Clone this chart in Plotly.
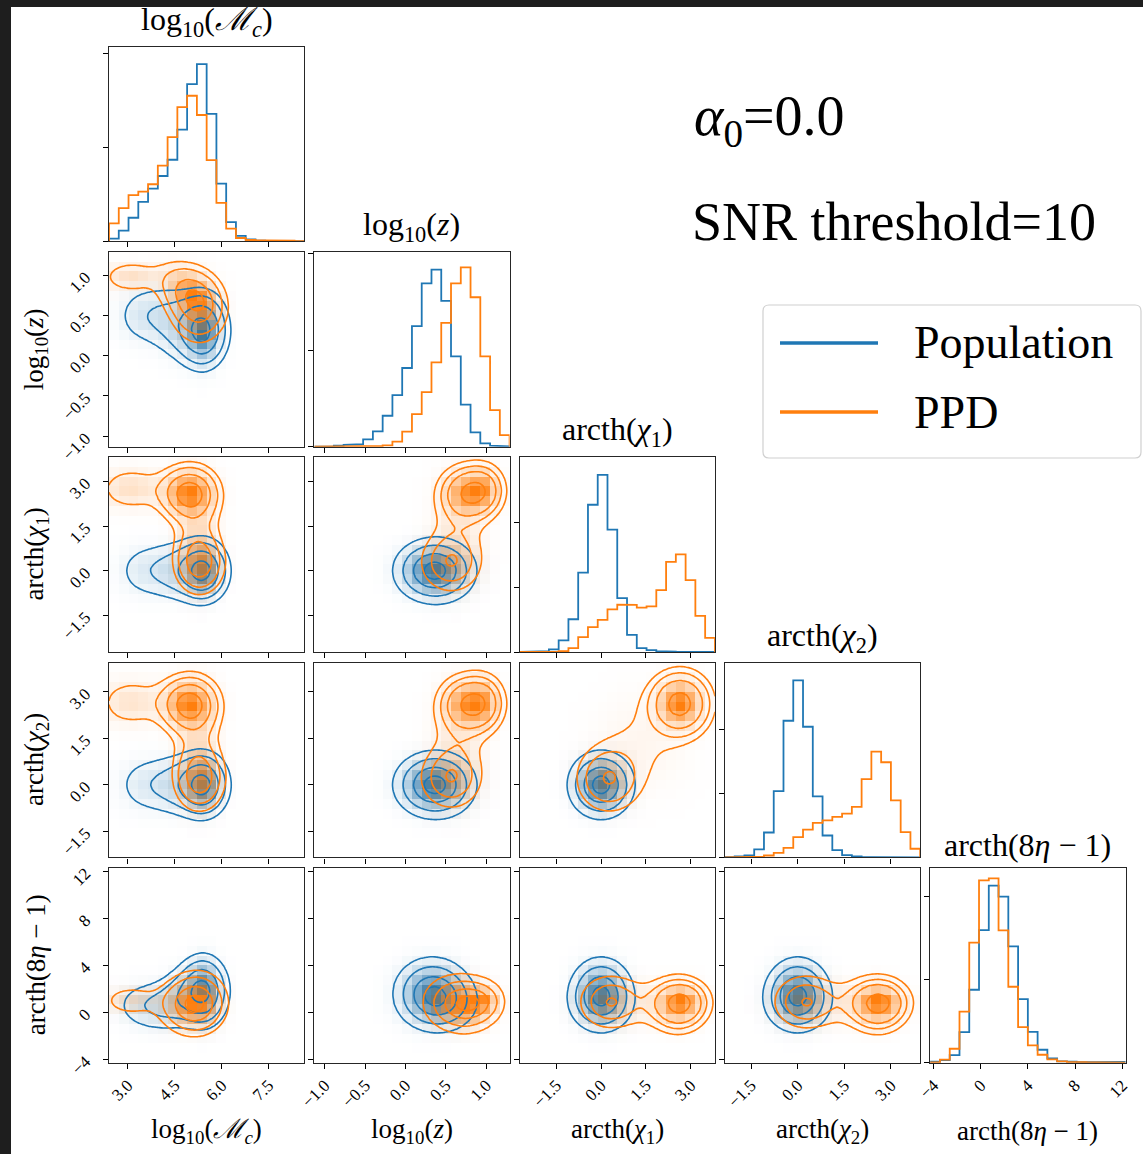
import numpy as np
import plotly.graph_objects as go

W, H = 1143, 1154
SERIF = "Liberation Serif, DejaVu Serif, serif"
BLUE = (31, 119, 180)
ORANGE = (255, 127, 14)

# ---------------- parameters, ranges and ticks ----------------
labels = [
    "log<sub>10</sub>(<i>ℳ</i><sub><i>c</i></sub>)",
    "log<sub>10</sub>(<i>z</i>)",
    "arcth(<i>χ</i><sub>1</sub>)",
    "arcth(<i>χ</i><sub>2</sub>)",
    "arcth(8<i>η</i> − 1)",
]
range_lo = [2.40, -1.13, -2.73, -2.34, -4.28]
range_hi = [8.64, 1.29, 3.81, 3.94, 12.28]
tick_vals = [
    [3.0, 4.5, 6.0, 7.5],
    [-1.0, -0.5, 0.0, 0.5, 1.0],
    [-1.5, 0.0, 1.5, 3.0],
    [-1.5, 0.0, 1.5, 3.0],
    [-4, 0, 4, 8, 12],
]
tick_text = [
    ["3.0", "4.5", "6.0", "7.5"],
    ["−1.0", "−0.5", "0.0", "0.5", "1.0"],
    ["−1.5", "0.0", "1.5", "3.0"],
    ["−1.5", "0.0", "1.5", "3.0"],
    ["−4", "0", "4", "8", "12"],
]
N_BINS = 20

# ---------------- 1D marginal histograms (density, 20 bins) ----------------
hist_mc_pop = [0.028, 0.113, 0.251, 0.420, 0.562, 0.696, 0.869, 1.190, 1.675, 1.887,
               1.357, 0.615, 0.205, 0.057, 0.021, 0.007, 0.004, 0.002, 0.001, 0.001]
hist_mc_ppd = [0.190, 0.353, 0.491, 0.530, 0.608, 0.806, 1.110, 1.430, 1.551, 1.346,
               0.866, 0.410, 0.134, 0.035, 0.014, 0.010, 0.010, 0.008, 0.006, 0.001]
hist_z_pop = [0.000, 0.003, 0.010, 0.020, 0.027, 0.076, 0.158, 0.320, 0.533, 0.814,
              1.247, 1.690, 1.832, 1.509, 0.935, 0.436, 0.148, 0.034, 0.010, 0.003]
hist_z_ppd = [0.000, 0.001, 0.002, 0.003, 0.003, 0.005, 0.007, 0.014, 0.052, 0.155,
              0.337, 0.564, 0.873, 1.282, 1.690, 1.856, 1.546, 0.935, 0.378, 0.120]
hist_c1_pop = [0.002, 0.005, 0.015, 0.040, 0.180, 0.505, 1.224, 2.270, 2.730, 1.888,
               0.832, 0.265, 0.061, 0.030, 0.015, 0.005, 0.003, 0.002, 0.001, 0.001]
hist_c1_ppd = [0.000, 0.001, 0.003, 0.006, 0.015, 0.061, 0.230, 0.383, 0.495, 0.658,
               0.730, 0.725, 0.684, 0.704, 0.954, 1.388, 1.505, 1.107, 0.556, 0.219]
hist_c2_pop = [0.005, 0.015, 0.030, 0.124, 0.389, 1.036, 2.135, 2.767, 2.041, 0.953,
               0.342, 0.114, 0.036, 0.015, 0.005, 0.003, 0.002, 0.001, 0.001, 0.001]
hist_c2_ppd = [0.000, 0.001, 0.003, 0.010, 0.030, 0.070, 0.150, 0.316, 0.435, 0.539,
               0.580, 0.632, 0.684, 0.788, 1.223, 1.653, 1.487, 0.891, 0.394, 0.135]
hist_eta_pop = [0.012, 0.032, 0.092, 0.368, 0.880, 1.600, 2.136, 2.004, 1.404, 0.768,
                0.372, 0.156, 0.052, 0.016, 0.012, 0.008, 0.006, 0.005, 0.010, 0.010]
hist_eta_ppd = [0.004, 0.036, 0.168, 0.616, 1.448, 2.200, 2.224, 1.596, 0.916, 0.428,
                0.208, 0.096, 0.040, 0.016, 0.008, 0.006, 0.004, 0.003, 0.002, 0.002]
hist_pop = [hist_mc_pop, hist_z_pop, hist_c1_pop, hist_c2_pop, hist_eta_pop]
hist_ppd = [hist_mc_ppd, hist_z_ppd, hist_c1_ppd, hist_c2_ppd, hist_eta_ppd]
hist_ticks = [0, 1, 2]

# ---------------- joint densities: Gaussian-mixture components ----------------
# variable order: [log10 Mc, log10 z, arcth chi1, arcth chi2, arcth(8 eta - 1)]
pop_weight = [0.55, 0.30, 0.15]
pop_mean = [[5.42, 0.32, 0.00, 0.00, 1.8],
            [4.65, 0.38, 0.00, 0.00, 1.2],
            [3.50, 0.50, 0.00, 0.00, 0.6]]
pop_sd = [[0.30, 0.22, 0.45, 0.45, 1.4],
          [0.50, 0.24, 0.48, 0.48, 1.3],
          [0.50, 0.20, 0.50, 0.50, 1.0]]
pop_corr = [(1, 0, 4, 0.35), (1, 0, 1, -0.2)]  # (component, var a, var b, rho)

ppd_weight = [0.41, 0.14, 0.25, 0.20]
ppd_mean = [[4.95, 0.78, 2.60, 2.60, 0.6],
            [3.10, 0.98, 2.75, 2.65, 1.0],
            [5.30, 0.55, 0.25, 0.20, 0.9],
            [5.20, 0.65, 1.40, 1.40, 0.8]]
ppd_sd = [[0.45, 0.17, 0.42, 0.42, 1.0],
          [0.65, 0.10, 0.40, 0.45, 0.6],
          [0.35, 0.20, 0.50, 0.50, 1.1],
          [0.40, 0.20, 1.00, 1.00, 1.1]]
ppd_corr = [(0, 0, 1, -0.45)]

# ---------------- panel geometry (pixels) ----------------
col_left = [109.0, 314.3, 519.6, 724.9, 930.2]
row_top = [46.5, 251.9, 457.2, 662.6, 867.9]
PANEL_W, PANEL_H = 195.3, 194.8


def px_x(x):
    return x / W


def px_y(y):
    return 1 - y / H


def rgba(c, a):
    return f"rgba({c[0]},{c[1]},{c[2]},{a})"


def pair_pdf(X, Y, weights, means, sds, corrs, a, b, sm_a=0.0, sm_b=0.0):
    tot = np.zeros_like(X)
    for k, w in enumerate(weights):
        rho0 = 0.0
        for comp, va, vb, r in corrs:
            if comp == k and {va, vb} == {a, b}:
                rho0 = r
        sa0, sb0 = sds[k][a], sds[k][b]
        sa = np.sqrt(sa0 ** 2 + sm_a ** 2)
        sb = np.sqrt(sb0 ** 2 + sm_b ** 2)
        rho = rho0 * sa0 * sb0 / (sa * sb)
        u = (X - means[k][a]) / sa
        v = (Y - means[k][b]) / sb
        q = (u * u - 2 * rho * u * v + v * v) / (1 - rho ** 2)
        tot += w * np.exp(-0.5 * q) / (2 * np.pi * sa * sb * np.sqrt(1 - rho ** 2))
    return tot


def sigma_field(d):
    flat = d.ravel()
    order = np.argsort(flat)[::-1]
    cum = np.cumsum(flat[order])
    cum /= cum[-1]
    m = np.empty_like(flat)
    m[order] = cum
    m = np.clip(m, 0, 1 - 1e-12)
    return np.sqrt(-2 * np.log(1 - m)).reshape(d.shape)


pops = [
    dict(color=BLUE, hist=hist_pop, w=pop_weight, mu=pop_mean, sd=pop_sd, corr=pop_corr),
    dict(color=ORANGE, hist=hist_ppd, w=ppd_weight, mu=ppd_mean, sd=ppd_sd, corr=ppd_corr),
]

fig = go.Figure()
layout = dict(
    width=W, height=H, margin=dict(l=0, r=0, t=0, b=0, autoexpand=False), autosize=False,
    paper_bgcolor="white", plot_bgcolor="white", showlegend=False,
    font=dict(family=SERIF, color="black"),
)

axis_common = dict(
    showline=True, mirror=True, linecolor="#262626", linewidth=1.2,
    ticks="outside", ticklen=5, tickwidth=1, tickcolor="black",
    showgrid=False, zeroline=False, tickangle=-45, automargin=False,
    tickfont=dict(family=SERIF, size=17, color="black"),
)

n = 0
for i in range(5):
    for j in range(i + 1):
        n += 1
        xa = "x" if n == 1 else f"x{n}"
        ya = "y" if n == 1 else f"y{n}"
        xkey = "xaxis" if n == 1 else f"xaxis{n}"
        ykey = "yaxis" if n == 1 else f"yaxis{n}"
        x0, x1 = col_left[j], col_left[j] + PANEL_W
        y0, y1 = row_top[i], row_top[i] + PANEL_H
        xdict = dict(axis_common, domain=[px_x(x0), px_x(x1)], anchor=ya,
                     range=[range_lo[j], range_hi[j]], tickvals=tick_vals[j],
                     ticktext=tick_text[j], showticklabels=(i == 4))
        if i == j:
            ymax = 1.1 * max(hist_pop[i])
            ydict = dict(axis_common, domain=[px_y(y1), px_y(y0)], anchor=xa,
                         range=[0, ymax], tickvals=hist_ticks, showticklabels=False)
            edges = np.linspace(range_lo[i], range_hi[i], N_BINS + 1)
            for p in pops:
                h = p["hist"][i]
                xs = [edges[0]]
                ys = [0.0]
                for k in range(N_BINS):
                    xs += [edges[k], edges[k + 1]]
                    ys += [h[k], h[k]]
                xs.append(edges[-1])
                ys.append(0.0)
                fig.add_trace(go.Scatter(x=xs, y=ys, mode="lines", xaxis=xa, yaxis=ya,
                                         line=dict(color=rgba(p["color"], 1), width=1.8),
                                         hoverinfo="skip", cliponaxis=True))
        else:
            ydict = dict(axis_common, domain=[px_y(y1), px_y(y0)], anchor=xa,
                         range=[range_lo[i], range_hi[i]], tickvals=tick_vals[i],
                         ticktext=tick_text[i], showticklabels=(j == 0),
                         ticklabelstandoff=14)
            # binned density (20 x 20 cells) and smoothed density for contours
            bx = np.linspace(range_lo[j], range_hi[j], N_BINS + 1)
            by = np.linspace(range_lo[i], range_hi[i], N_BINS + 1)
            cx = 0.5 * (bx[1:] + bx[:-1])
            cy = 0.5 * (by[1:] + by[:-1])
            gx = np.linspace(range_lo[j], range_hi[j], 90)
            gy = np.linspace(range_lo[i], range_hi[i], 90)
            dx = bx[1] - bx[0]
            dy = by[1] - by[0]
            for p in pops:
                CX, CY = np.meshgrid(cx, cy)
                hb = pair_pdf(CX, CY, p["w"], p["mu"], p["sd"], p["corr"], j, i)
                f = hb / hb.max()
                c = p["color"]
                fig.add_trace(go.Heatmap(
                    x=cx, y=cy, z=f, zmin=0, zmax=1, xaxis=xa, yaxis=ya,
                    colorscale=[[0, rgba(c, 0)], [1, rgba(c, 1)]],
                    showscale=False, hoverinfo="skip", zsmooth=False))
                GX, GY = np.meshgrid(gx, gy)
                hs = pair_pdf(GX, GY, p["w"], p["mu"], p["sd"], p["corr"], j, i,
                              sm_a=dx, sm_b=dy)
                s = sigma_field(hs)
                fig.add_trace(go.Contour(
                    x=gx, y=gy, z=s, xaxis=xa, yaxis=ya,
                    contours=dict(coloring="none", start=0.5, end=2.0, size=0.5,
                                  showlabels=False),
                    autocontour=False, line=dict(color=rgba(c, 1), width=1.6),
                    showscale=False, hoverinfo="skip"))
        layout[xkey] = xdict
        layout[ykey] = ydict

annotations = []
# titles above the diagonal panels
for k in range(5):
    annotations.append(dict(
        text=labels[k], x=px_x(col_left[k] + PANEL_W / 2), y=px_y(row_top[k] - 3),
        xref="paper", yref="paper", xanchor="center", yanchor="bottom",
        showarrow=False, font=dict(family=SERIF, size=32, color="black")))
# x labels along the bottom row
for k in range(5):
    annotations.append(dict(
        text=labels[k], x=px_x(col_left[k] + PANEL_W / 2), y=px_y(1131),
        xref="paper", yref="paper", xanchor="center", yanchor="middle",
        showarrow=False, font=dict(family=SERIF, size=27, color="black")))
# y labels along the left column
for k in range(1, 5):
    annotations.append(dict(
        text=labels[k], x=px_x(36), y=px_y(row_top[k] + PANEL_H / 2),
        xref="paper", yref="paper", xanchor="center", yanchor="middle", textangle=-90,
        showarrow=False, font=dict(family=SERIF, size=27, color="black")))

# run settings text
annotations.append(dict(
    text="<i>α</i><sub>0</sub>=0.0", x=px_x(692), y=px_y(120), xref="paper", yref="paper",
    xanchor="left", yanchor="middle", showarrow=False,
    font=dict(family=SERIF, size=56, color="black")))
annotations.append(dict(
    text="SNR threshold=10", x=px_x(690), y=px_y(222), xref="paper", yref="paper",
    xanchor="left", yanchor="middle", showarrow=False,
    font=dict(family=SERIF, size=54, color="black")))

# legend entries
legend_names = ["Population", "PPD"]
legend_colors = [BLUE, ORANGE]
legend_y = [343, 412]
shapes = []
for name, c, ly in zip(legend_names, legend_colors, legend_y):
    shapes.append(dict(type="line", xref="paper", yref="paper",
                       x0=px_x(780), x1=px_x(878), y0=px_y(ly), y1=px_y(ly),
                       line=dict(color=rgba(c, 1), width=3.5)))
    annotations.append(dict(
        text=name, x=px_x(912), y=px_y(ly), xref="paper", yref="paper",
        xanchor="left", yanchor="middle", showarrow=False,
        font=dict(family=SERIF, size=46, color="black")))

# rounded legend frame
bx0, bx1, by0, by1, r = 763, 1141, 305, 458, 6
path = (f"M {px_x(bx0 + r)},{px_y(by0)} L {px_x(bx1 - r)},{px_y(by0)} "
        f"Q {px_x(bx1)},{px_y(by0)} {px_x(bx1)},{px_y(by0 + r)} "
        f"L {px_x(bx1)},{px_y(by1 - r)} Q {px_x(bx1)},{px_y(by1)} {px_x(bx1 - r)},{px_y(by1)} "
        f"L {px_x(bx0 + r)},{px_y(by1)} Q {px_x(bx0)},{px_y(by1)} {px_x(bx0)},{px_y(by1 - r)} "
        f"L {px_x(bx0)},{px_y(by0 + r)} Q {px_x(bx0)},{px_y(by0)} {px_x(bx0 + r)},{px_y(by0)} Z")
shapes.append(dict(type="path", xref="paper", yref="paper", path=path,
                   line=dict(color="#d0d0d0", width=1.2), fillcolor="rgba(255,255,255,0.8)",
                   layer="below"))

# dark window edge along the top and left
shapes.append(dict(type="rect", xref="paper", yref="paper", x0=0, x1=1, y0=px_y(7), y1=1,
                   fillcolor="#1e1e1e", line=dict(width=0), layer="above"))
shapes.append(dict(type="rect", xref="paper", yref="paper", x0=0, x1=px_x(11), y0=0, y1=1,
                   fillcolor="#1e1e1e", line=dict(width=0), layer="above"))

layout["annotations"] = annotations
layout["shapes"] = shapes
fig.update_layout(**layout)

page_css = ("var st=document.createElement('style');"
            "st.innerHTML='html,body{margin:0;padding:0;overflow:hidden;}';"
            "document.head.appendChild(st);")
fig.write_html("out.html", post_script=page_css,
               config={"responsive": False, "displayModeBar": False})
